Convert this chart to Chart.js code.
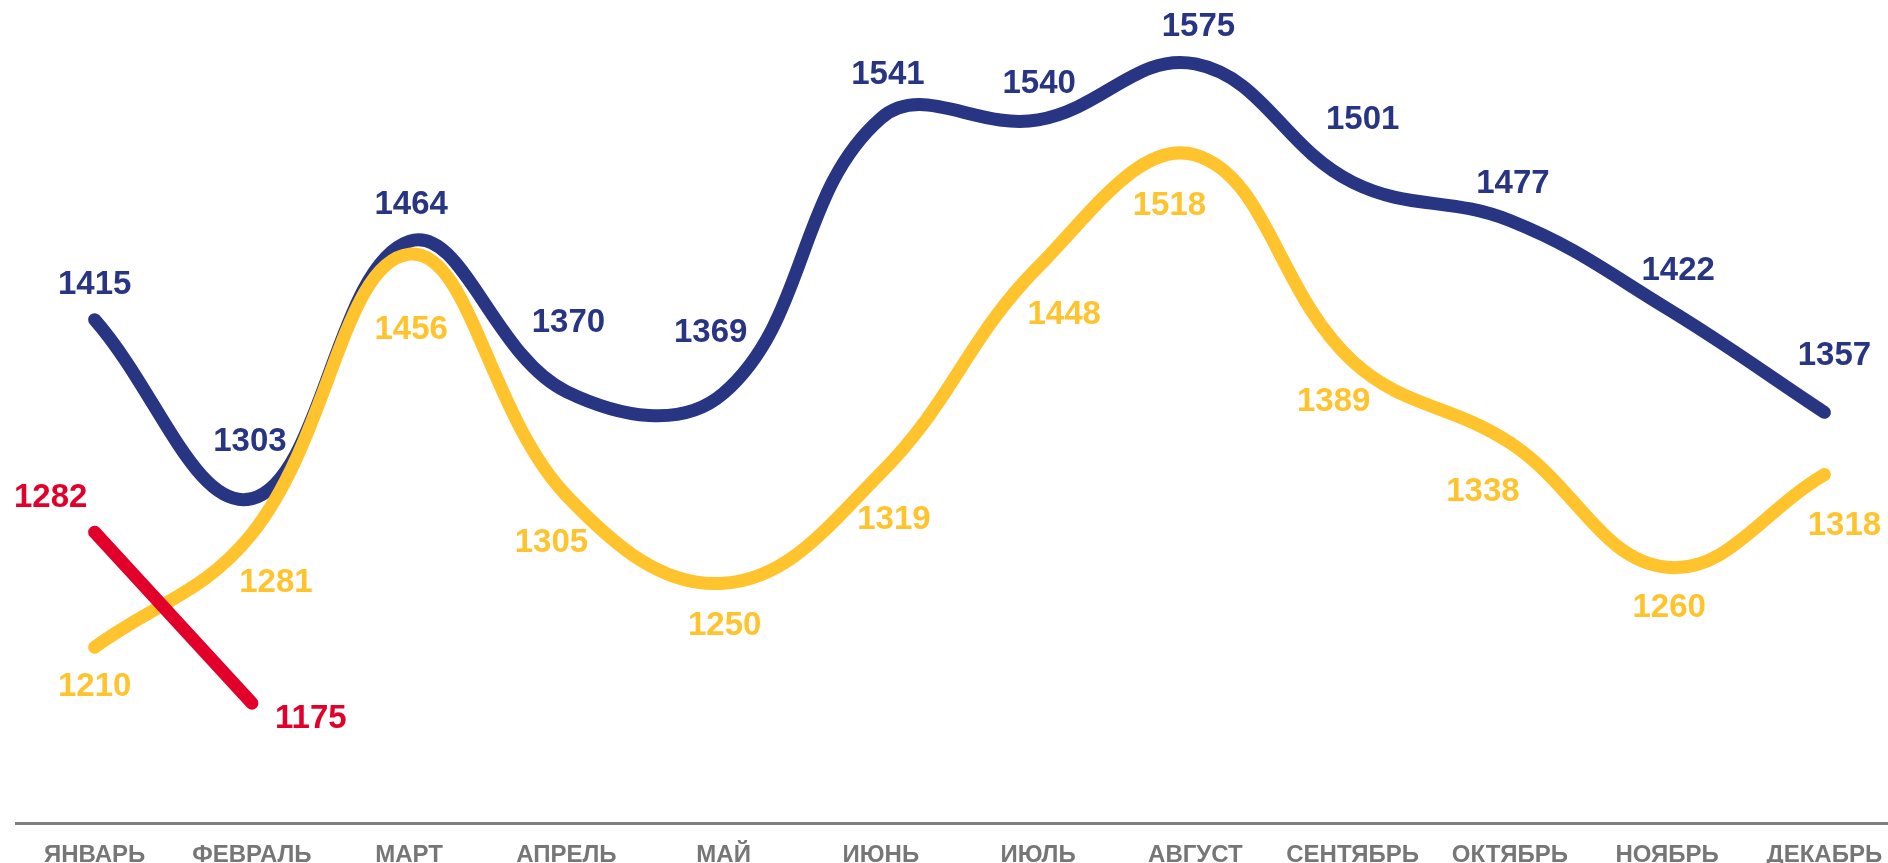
<!DOCTYPE html>
<html>
<head>
<meta charset="utf-8">
<title>Помесячно</title>
<script src="https://cdn.jsdelivr.net/npm/chart.js@4.4.1/dist/chart.umd.min.js"></script>
<style>
    html, body { margin: 0; padding: 0; background: #fff; overflow: hidden; }
    #wrap { width: 1888px; height: 863px; overflow: hidden; }
</style>
</head>
<body>
<div id="wrap">
    <canvas id="lineChart" width="1903" height="863" style="width:1903px;height:863px"></canvas>
</div>
<script>
// months on the x axis
var months = ['ЯНВАРЬ', 'ФЕВРАЛЬ', 'МАРТ', 'АПРЕЛЬ', 'МАЙ', 'ИЮНЬ', 'ИЮЛЬ', 'АВГУСТ', 'СЕНТЯБРЬ', 'ОКТЯБРЬ', 'НОЯБРЬ', 'ДЕКАБРЬ'];

// the three series
var blueValues = [1415, 1303, 1464, 1370, 1369, 1541, 1540, 1575, 1501, 1477, 1422, 1357];
var yellowValues = [1210, 1281, 1456, 1305, 1250, 1319, 1448, 1518, 1389, 1338, 1260, 1318];
var redValues = [1282, 1175, null, null, null, null, null, null, null, null, null, null];

// y range of the hidden value axis
var yMin = 1100;
var yMax = 1600;

// little plugin that writes the value next to each point (no datalabels plugin available)
var valueLabels = {
    id: 'valueLabels',
    afterDatasetsDraw: function (chart) {
        var ctx = chart.ctx;
        ctx.save();
        ctx.font = 'bold 33px "Liberation Sans", Arial, sans-serif';
        ctx.textAlign = 'center';
        ctx.textBaseline = 'middle';
        chart.data.datasets.forEach(function (ds, i) {
            var meta = chart.getDatasetMeta(i);
            meta.data.forEach(function (pt, j) {
                var v = ds.data[j];
                if (v === null || v === undefined) return;
                var shift = ds.labelShift[j] || [0, 0];
                ctx.fillStyle = ds.borderColor;
                ctx.fillText(String(v), pt.x + shift[0], pt.y + shift[1]);
            });
        });
        ctx.restore();
    }
};

var ctx = document.getElementById('lineChart').getContext('2d');
var myLineChart = new Chart(ctx, {
    type: 'line',
    data: {
        labels: months,
        datasets: [{
            data: blueValues,
            borderColor: '#283583',
            order: 3,
            // label nudges relative to the point (dx, dy)
            labelShift: [[0, -35], [-2, -57], [2, -36], [2, -69], [-13, -60], [7, -43], [1, -36], [3, -37], [10, -62], [3, -37], [11, -38], [10, -56]]
        }, {
            data: yellowValues,
            borderColor: '#FFC32D',
            order: 2,
            labelShift: [[0, 40], [24, 49], [2, 76], [-15, 47], [1, 43], [13, 47], [26, 48], [-26, 51], [-19, 41], [-27, 49], [2, 41], [20, 51]]
        }, {
            data: redValues,
            borderColor: '#E2002B',
            order: 1,
            labelShift: [[-44, -34], [59, 16]]
        }]
    },
    options: {
        responsive: false,
        animation: false,
        devicePixelRatio: 1,
        layout: {
            padding: { top: 24, left: 16, right: 0, bottom: 0 }
        },
        elements: {
            line: {
                borderWidth: 13,
                borderCapStyle: 'round',
                borderJoinStyle: 'round',
                tension: 0.4,
                fill: false
            },
            point: { radius: 0, hoverRadius: 0 }
        },
        plugins: {
            legend: { display: false },
            tooltip: { enabled: false }
        },
        scales: {
            x: {
                offset: true,
                grid: { display: false, drawTicks: false },
                border: { display: true, color: '#7F7F7F', width: 3 },
                // axis band is fixed so the plot bottom sits on the grey rule
                afterFit: function (scale) { scale.height = 40; },
                ticks: {
                    padding: 18,
                    color: '#767676',
                    maxRotation: 0,
                    autoSkip: false,
                    font: { family: '"Liberation Sans", Arial, sans-serif', size: 24, weight: 'bold' }
                }
            },
            y: {
                display: false,
                min: yMin,
                max: yMax
            }
        }
    },
    plugins: [valueLabels]
});
</script>
</body>
</html>
